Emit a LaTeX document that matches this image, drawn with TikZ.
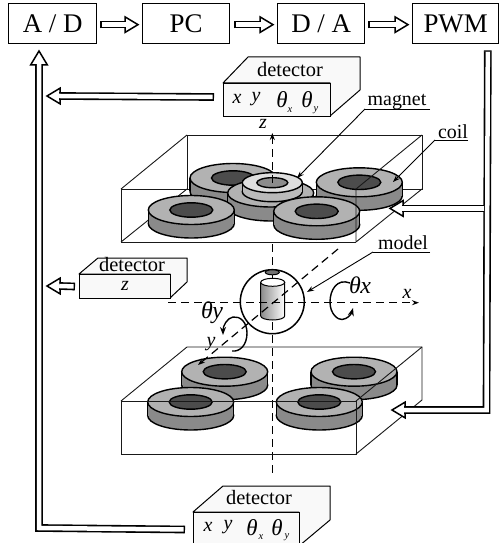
\documentclass[tikz,border=0pt]{standalone}
\usepackage{fontspec}
\setmainfont{Liberation Serif}
\usetikzlibrary{arrows.meta,calc}
\definecolor{ctop}{gray}{0.70}
\definecolor{cside}{gray}{0.54}
\definecolor{chole}{gray}{0.30}
\definecolor{detfill}{gray}{0.975}
\newcommand{\coilshape}[9]{% x y rx ry h holerx holery top side (hole colour from \holecol)
  \draw[coilline,fill=#9] (#1,#2+#5) ellipse ({#3} and {#4});
  \fill[#9] (#1-#3,#2) rectangle (#1+#3,#2+#5);
  \draw[coilline] (#1-#3,#2) -- (#1-#3,#2+#5) (#1+#3,#2) -- (#1+#3,#2+#5);
  \draw[coilline,fill=#8] (#1,#2) ellipse ({#3} and {#4});
  \draw[coilline,fill=\holecol] (#1,#2) ellipse ({#6} and {#7});
}
\newcommand{\holecol}{chole}
\newcommand{\stdcoil}[2]{\coilshape{#1}{#2}{43}{14.5}{13.5}{21.5}{7.2}{ctop}{cside}}
\newcommand{\hhead}[3]{% base coord, tip offset x, y
  \draw[headstyle] ($(#1)+({#3*0.6},{#2*0.6})$) -- ($(#1)+(#2,#3)$) -- ($(#1)-({#3*0.6},{#2*0.6})$) -- cycle;
}
\tikzset{
  x=1bp,y=-1bp,
  blockbox/.style={draw,line width=1.3bp,minimum height=40bp,inner sep=0pt,font=\fontsize{27}{30}\selectfont,anchor=north west},
  detface/.style={draw,line width=1bp,fill=detfill,inner sep=0pt,anchor=north west},
  dettop/.style={draw,line width=1bp,fill=detfill,line join=round},
  dettext/.style={font=\fontsize{20.5}{22}\selectfont,inner sep=0pt},
  mathit/.style={font=\fontsize{20}{22}\selectfont\itshape,inner sep=0pt},
  thetait/.style={font=\fontsize{23}{24}\selectfont\itshape,inner sep=0pt},
  subit/.style={font=\fontsize{10.5}{12}\selectfont\itshape,inner sep=0pt},
  lbl/.style={font=\fontsize{20}{22}\selectfont,inner sep=0pt},
  coilline/.style={line width=1.4bp,black},
  edge/.style={line width=0.9bp,black!90},
  pipe/.style={double=white,double distance=4.5bp,line width=1.6bp,line join=miter,shorten >=-0.8bp},
  pipecap/.style={pipe,{Bar[width=7.7bp,line width=1.4bp]}-},
  headstyle/.style={draw,fill=white,line width=1.5bp,line join=miter},
  axis/.style={line width=1.2bp,dash pattern=on 8bp off 5bp},
  leader/.style={line width=0.9bp,-{Stealth[length=7bp,width=5bp]}},
  rot/.style={line width=1.4bp,-{Stealth[length=8bp,width=6bp]}},
}
\begin{document}
\begin{tikzpicture}
\useasboundingbox (0,0) rectangle (499,543);
\clip (0,0) rectangle (499,543);

% blocks
\node[blockbox,minimum width=88bp] (ad) at (8,3) {A / D};
\node[blockbox,minimum width=87bp] (pc) at (142,3) {PC};
\node[blockbox,minimum width=87bp] (da) at (277,3) {D / A};
\node[blockbox,minimum width=86bp] (pwm) at (412,3) {PWM};

% arrows between blocks
\coordinate (h1) at ($(pc.west)+(-17,1)$);
\hhead{h1}{13}{0}
\draw[pipecap] ($(ad.east)+(3,1)$) -- (h1);
\coordinate (h2) at ($(da.west)+(-17,1)$);
\hhead{h2}{13}{0}
\draw[pipecap] ($(pc.east)+(4,1)$) -- (h2);
\coordinate (h3) at ($(pwm.west)+(-17,1)$);
\hhead{h3}{13}{0}
\draw[pipecap] ($(da.east)+(3,1)$) -- (h3);

% detector 1
\draw[dettop] (223,83) -- (248,57) -- (360,57) -- (360,90) -- (330,116) -- (330,83) -- cycle;
\node[detface,minimum width=107bp,minimum height=33bp] (det1) at (223,83) {};
\node[dettext] at (290,70) {detector};
\node[mathit] at (237,99) {x};
\node[mathit] at (256,99) {y};
\node[thetait] at (282,100) {θ};
\node[subit] at (290,110) {x};
\node[thetait] at (307,100) {θ};
\node[subit] at (316,110) {y};

% detector 2 (z)
\draw[dettop] (79,274) -- (98,258) -- (187,258) -- (187,282) -- (170,298) -- (170,274) -- cycle;
\node[detface,minimum width=91bp,minimum height=24bp] (det2) at (79,274) {};
\node[dettext] at (132,265) {detector};
\node[mathit] at (125,286) {z};

% detector 3
\draw[dettop] (193,512) -- (223,486) -- (330,486) -- (330,520) -- (299,546) -- (299,512) -- cycle;
\node[detface,minimum width=106bp,minimum height=33bp] (det3) at (193,512) {};
\node[dettext] at (259,498) {detector};
\node[mathit] at (208,527) {x};
\node[mathit] at (228,527) {y};
\node[thetait] at (252,528) {θ};
\node[subit] at (261,537) {x};
\node[thetait] at (277,528) {θ};
\node[subit] at (287,537) {y};

% detector arrows
\coordinate (h4) at (60,96);
\hhead{h4}{-13}{0}
\draw[pipecap] ($(det1.west)+(-9,-3)$) -- (h4);
\coordinate (h5) at (60,286);
\hhead{h5}{-13}{0}
\draw[pipecap] ($(det2.west)+(-4,0)$) -- (h5);
\coordinate (h6) at (39,65);
\hhead{h6}{0}{-14}
\draw[pipecap] ($(det3.west)+(-8,0.5)$) -- (39,528) -- (h6);

% z axis points
\coordinate (zlow) at (272.3,477);
\coordinate (zmid) at (272.3,244);
\coordinate (ztop) at (272.3,183);
\coordinate (ztip) at (272.3,133);

% upper box: back
\draw[edge] (187,135) -- (422,135) -- (422,189) -- (187,189) -- cycle;
\draw[edge] (121,189) -- (187,135) (121,242) -- (187,189);
\draw[edge] (121,189) -- (356,189) (121,189) -- (121,242) -- (356,242);

% upper coils
\stdcoil{233}{178}
\stdcoil{359.3}{182.3}
% central disc and magnet
\draw[coilline,fill=cside] (270.7,207) ellipse (43 and 14);
\fill[cside] (227.7,193) rectangle (313.7,207);
\draw[coilline] (227.7,193) -- (227.7,207) (313.7,193) -- (313.7,207);
\draw[coilline,fill=ctop] (270.7,193) ellipse (43 and 14);
\renewcommand{\holecol}{black!45}
\coilshape{272.3}{182.7}{30}{10}{9}{15.5}{5}{black!13}{black!27}
\renewcommand{\holecol}{chole}
\stdcoil{191.3}{210}
\stdcoil{316.7}{211.3}

% upper box: front edges
\draw[edge] (356,189) -- (356,242) (356,189) -- (422,135) (356,242) -- (422,189);
\draw[axis,-{Stealth[length=7bp,width=5bp]}] (ztop) -- (ztip);
\node[mathit] at (263,124) {z};

% lower box back
\draw[edge] (187,347) -- (422,347) -- (422,400) (121,401) -- (187,347);
\draw[axis] (zmid) -- (zlow);

% lower coils
\stdcoil{224.7}{371.7}
\stdcoil{354}{371.7}
\stdcoil{190.7}{402}
\stdcoil{319.3}{402}

% lower box front
\draw[edge] (121,401) rectangle (356,454);
\draw[edge] (356,401) -- (422,347) (356,454) -- (422,400);

% model
\node[circle,draw,line width=1.5bp,minimum size=64bp,inner sep=0pt] (sphere) at (272.3,301.7) {};
\draw[line width=1bp,fill=black!55] (272.3,272.3) ellipse (7 and 2.5);
\shade[left color=black!45,right color=white,draw=black,line width=1bp]
  (260.7,282.3) -- (260.7,316) .. controls (260.7,318.2) and (266,320) .. (272.7,320)
  .. controls (279.3,320) and (284.7,318.2) .. (284.7,316) -- (284.7,282.3) -- cycle;
\draw[line width=1bp,fill=white] (272.7,282.3) ellipse (12 and 4);

% axes
\coordinate (xl) at (168,302.7);
\coordinate (xr) at (419,302.7);
\coordinate (yu) at (338,249);
\coordinate (yd) at (198,365);
\draw[axis,-{Stealth[length=7bp,width=5bp]}] (xl) -- (xr);
\draw[axis,-{Stealth[length=7bp,width=5bp]}] (yu) -- (yd);
\node[mathit] at (407,294) {x};
\node[mathit] at (211,344) {y};
\node[mathit,font=\fontsize{24}{26}\selectfont\itshape] (thx) at (360,285) {θ\kern-0.5pt x};
\node[mathit,font=\fontsize{24}{26}\selectfont\itshape] (thy) at (212,313) {θ\kern-0.5pt y};

% rotations
\draw[rot] (350,283) .. controls (337,278) and (330,290) .. (330,302) .. controls (330,314) and (338,320) .. (342,319.5) .. controls (347,319) and (351,315) .. (353,308);
\draw[rot] (232,351) .. controls (240,352) and (247,345) .. (247,333) .. controls (247,322) and (240,316) .. (233,317) .. controls (227,318) and (223,326) .. (223,335);

% labels and leaders
\node[lbl] (lmag) at (397,102) {magnet};
\coordinate (lmagL) at (365,109);
\coordinate (lmagR) at (430,109);
\coordinate (lmagT) at (297,178);
\draw[line width=0.9bp] (lmagR) -- (lmagL);
\draw[leader] (lmagL) -- (lmagT);
\node[lbl] (lcoil) at (453,132) {coil};
\coordinate (lcoilL) at (435,140);
\coordinate (lcoilR) at (468,140);
\coordinate (lcoilT) at (393,182);
\draw[line width=0.9bp] (lcoilR) -- (lcoilL);
\draw[leader] (lcoilL) -- (lcoilT);
\node[lbl] (lmod) at (403,243) {model};
\coordinate (lmodL) at (373,252);
\coordinate (lmodR) at (430,252);
\coordinate (lmodT) at (307,292);
\draw[line width=0.9bp] (lmodR) -- (lmodL);
\draw[leader] (lmodL) -- (lmodT);

% PWM feed
\coordinate (hU) at (403,208.4);
\coordinate (hL) at (405,410);
\hhead{hU}{-13}{0}
\hhead{hL}{-13}{0}
\draw[pipecap] ($(pwm.south east)+(-11.5,6)$) -- (486.5,410) -- (hL);
\draw[pipe] (484.4,208.4) -- (hU);
\end{tikzpicture}
\end{document}
